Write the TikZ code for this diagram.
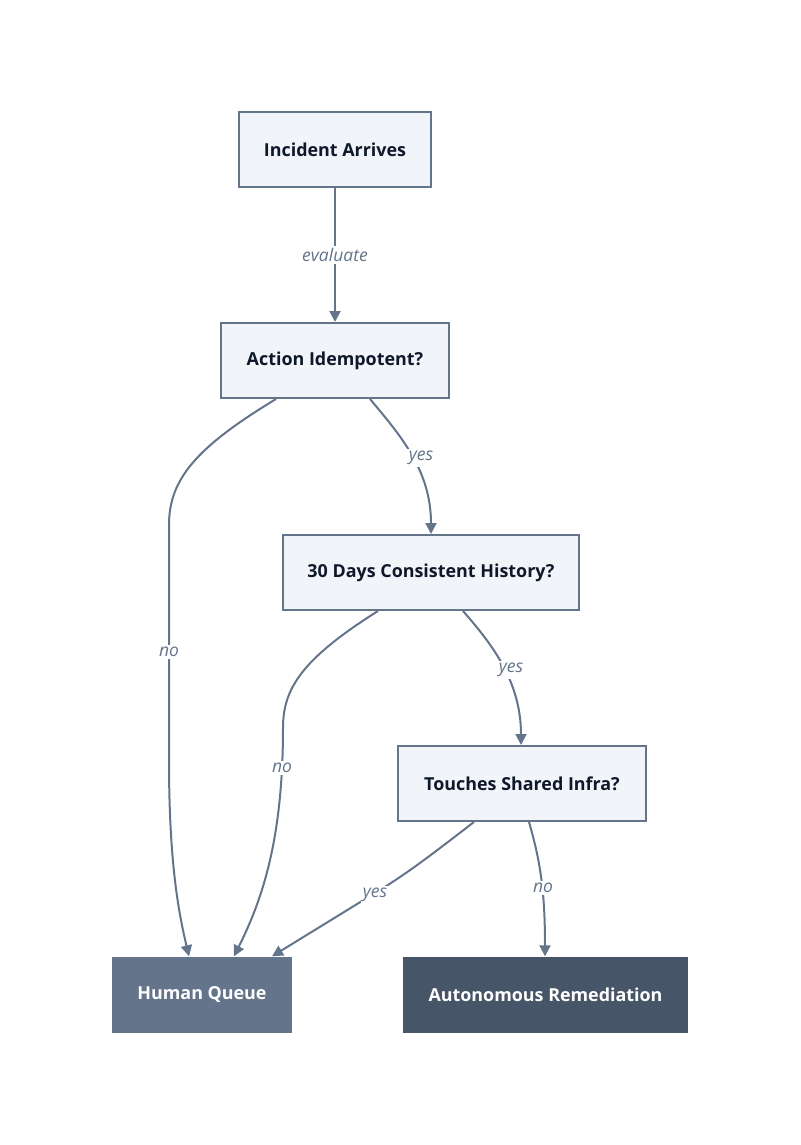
\documentclass[tikz,border=0pt]{standalone}
\usepackage{fontspec}
\setmainfont{Open Sans}
\usetikzlibrary{arrows.meta}
\definecolor{boxfill}{HTML}{F1F5F9}
\definecolor{boxline}{HTML}{64748B}
\definecolor{boxtext}{HTML}{0F172A}
\definecolor{humanfill}{HTML}{64748B}
\definecolor{autofill}{HTML}{475569}
\begin{document}
\begin{tikzpicture}[x=1pt,y=-1pt,
  flowbox/.style={rectangle, draw=boxline, line width=2pt, fill=boxfill, text=boxtext,
    font=\fontsize{17.9}{21}\selectfont\bfseries, minimum height=75pt, inner sep=0pt},
  endbox/.style={rectangle, text=white, font=\fontsize{17.9}{21}\selectfont\bfseries,
    minimum height=76pt, inner sep=0pt},
  edge/.style={draw=boxline, line width=2pt, -{Triangle[length=11pt,width=11pt]}},
  elabel/.style={fill=white, text=boxline, font=\fontsize{17.5}{20}\selectfont\itshape, inner sep=2pt}
]
\useasboundingbox (0,0) rectangle (800,1145);
\node[flowbox, minimum width=192pt] (inc) at (335,149.5) {\raisebox{-1pt}{Incident Arrives}};
\node[flowbox, minimum width=228pt] (act) at (335,360.5) {\raisebox{-1pt}{Action Idempotent?}};
\node[flowbox, minimum width=296pt] (hist) at (431,572.5) {\raisebox{-1pt}{30 Days Consistent History?}};
\node[flowbox, minimum width=248pt] (infra) at (522,783.5) {\raisebox{-1pt}{Touches Shared Infra?}};
\node[endbox, fill=humanfill, minimum width=180pt] (human) at (202,994.5) {\raisebox{-1pt}{Human Queue}};
\node[endbox, fill=autofill, minimum width=285pt] (auto) at (545.5,994.5) {\raisebox{-1pt}{Autonomous Remediation}};

\draw[edge] (inc.south) -- node[elabel, pos=0.5] {evaluate} (act.north);

\draw[edge] ([xshift=35pt]act.south) .. controls (400,435) and (431,470) .. ([xshift=0pt]hist.north);
\node[elabel] (l1) at (421,458) {yes};

\draw[edge] ([xshift=-59pt]act.south) .. controls (195,448) and (169,480) .. (169,525)
  -- (169,760) .. controls (169,860) and (178,910) .. ([xshift=-13pt]human.north);
\node[elabel] (l2) at (169,652) {no};

\draw[edge] ([xshift=-53pt]hist.south) .. controls (300,660) and (283,690) .. (283,728)
  .. controls (283,840) and (262,900) .. ([xshift=32pt]human.north);
\node[elabel] (l3) at (282,768) {no};

\draw[edge] ([xshift=32pt]hist.south) .. controls (490,642) and (521,680) .. ([xshift=-1pt]infra.north);
\node[elabel] (l4) at (511,670) {yes};

\draw[edge] ([xshift=-48pt]infra.south) .. controls (440,848) and (410,872) .. (375,893)
  -- ([xshift=70pt]human.north);
\node[elabel] (l5) at (375,895) {yes};

\draw[edge] ([xshift=7pt]infra.south) .. controls (540,860) and (545,890) .. ([xshift=-0.5pt]auto.north);
\node[elabel] (l6) at (543,888) {no};
\end{tikzpicture}
\end{document}
